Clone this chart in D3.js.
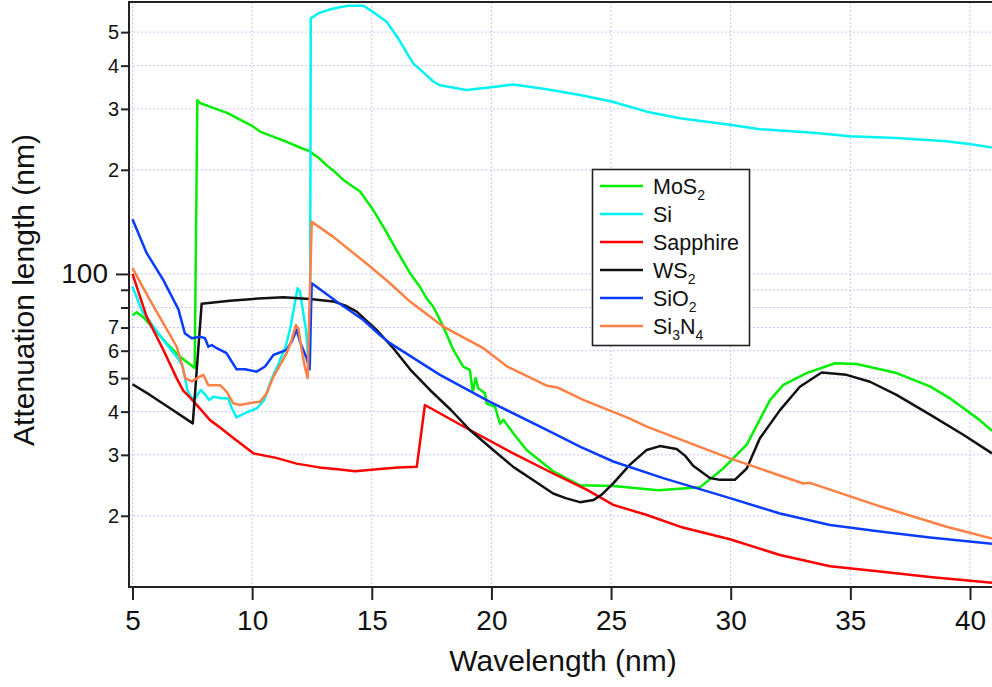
<!DOCTYPE html>
<html>
<head>
<meta charset="utf-8">
<script src="https://cdn.jsdelivr.net/npm/d3@7"></script>
<style>
  html, body { margin: 0; padding: 0; background: #fff; }
  svg { display: block; font-family: "Liberation Sans", Arial, sans-serif; }
</style>
</head>
<body>
<svg id="chart" width="992" height="687"></svg>
<script>
// ---------------- data (wavelength nm, attenuation length nm) ----------------
const mos2 = [[5.0,76],[5.18,77.5],[5.45,75],[5.87,69.6],[6.43,63],[6.98,57.7],[7.3,55.5],[7.6,53.5],[7.71,318],[7.82,312],[8.2,305],[8.66,297],[9.0,291],[9.63,276],[10.0,268],[10.33,258],[10.9,249],[11.44,241],[12.0,232],[12.42,226],[12.8,216],[13.12,206],[13.5,196],[13.81,187],[14.51,173],[15.06,153],[15.48,137],[16.04,117],[16.6,100.5],[17.01,91.9],[17.29,85],[17.57,80.4],[17.99,70.4],[18.41,60.3],[18.82,54],[19.1,52.8],[19.22,45.6],[19.34,50],[19.45,46.7],[19.73,45.2],[19.8,42.2],[20.15,41.3],[20.36,36.9],[20.5,37.9],[21.0,34],[21.47,31],[22.58,26.9],[23.7,24.5],[25.09,24.4],[26.97,23.7],[28.72,24.2],[29.69,27.4],[30.67,32.1],[31.64,43.2],[32.2,47.8],[33.17,51.7],[34.36,55.2],[35.26,54.9],[36.93,51.7],[38.33,47.3],[39.16,43.7],[40.41,37.8],[40.92,35.2]];

const si = [[5.0,92],[5.4,78],[5.9,70],[6.4,63],[6.9,57],[7.1,54],[7.3,46],[7.45,44],[7.6,43.5],[7.85,46.2],[8.05,44.7],[8.2,43.2],[8.4,44.2],[8.7,43.7],[9.0,43.7],[9.15,40.9],[9.35,38.5],[9.8,39.9],[10.2,40.9],[10.5,43.2],[10.8,49.4],[11.1,55],[11.4,61.6],[11.6,70],[11.75,80],[11.9,90.9],[12.0,89],[12.1,80],[12.25,69],[12.35,56],[12.42,55],[12.45,548],[12.77,567],[13.2,580],[13.6,589],[14.0,596],[14.65,596],[15.0,575],[15.62,536],[16.1,480],[16.52,429],[16.73,406],[17.2,380],[17.57,360],[17.85,351],[18.96,340],[20.08,347],[20.92,353],[22.31,342],[23.7,329],[25.03,315],[26.49,294.5],[27.88,282],[29.97,270],[31.22,262],[33.45,256],[34.98,250],[36.93,247],[39.0,242],[39.97,237.5],[40.92,232]];

const sapphire = [[5.0,100],[5.59,75.3],[6.29,60.3],[6.85,49.9],[7.12,46],[7.4,44],[7.82,40.8],[8.24,37.8],[8.7,35.8],[9.2,33.6],[10.05,30.3],[11.0,29.4],[11.86,28.3],[12.8,27.6],[13.67,27.2],[14.3,26.9],[15.34,27.3],[16.1,27.6],[16.88,27.7],[17.22,41.8],[19.1,35.4],[20.91,30.3],[22.58,26.5],[23.98,23.8],[25.09,21.5],[26.5,20.1],[27.88,18.6],[29.97,17.1],[32.06,15.4],[34.15,14.3],[36.24,13.8],[38.33,13.3],[40.92,12.8]];

const ws2 = [[5.0,48],[5.73,44.7],[6.57,40.9],[7.52,37],[7.89,82],[9.07,83.7],[10.05,84.7],[11.31,85.6],[12.42,84.7],[13.39,83.3],[13.9,81],[14.37,77.8],[14.8,73],[15.2,68.9],[15.9,61],[16.6,53],[17.43,46.2],[18.3,40.5],[19.1,35.4],[20.0,31.3],[20.91,27.7],[21.8,25.2],[22.58,23.2],[23.1,22.5],[23.7,21.9],[24.26,22.2],[24.6,23],[25.09,24.8],[25.79,28.1],[26.49,31],[27.04,31.8],[27.74,31.2],[28.1,29.8],[28.43,27.9],[29.13,25.7],[29.55,25.4],[30.17,25.4],[30.67,27.4],[31.22,33.5],[32.06,40.4],[32.89,47.2],[33.8,51.9],[34.84,51.1],[35.82,48.8],[36.93,44.7],[38.33,39.2],[39.72,34.3],[40.92,30.3]];

const sio2 = [[5.0,144],[5.59,115],[6.29,96],[6.92,79],[7.19,67.3],[7.48,65.2],[7.82,65.9],[8.03,65.2],[8.17,61.6],[8.31,62.3],[8.52,61],[8.93,59],[9.35,53],[9.7,53],[10.19,52.2],[10.54,54],[10.89,58.3],[11.44,60.3],[11.65,63.7],[11.86,69],[12.0,63.7],[12.15,60],[12.28,57],[12.4,53],[12.49,94],[13.53,83.2],[14.65,73.6],[15.34,66.6],[15.76,63.1],[17.85,51.1],[19.94,42.7],[22.31,35.4],[23.7,31.7],[25.09,28.7],[27.18,25.7],[29.97,22.5],[32.06,20.3],[34.15,18.8],[36.24,18.0],[38.33,17.3],[40.92,16.6]];

const si3n4 = [[5.0,104],[5.73,84],[6.29,72],[6.85,61.6],[7.06,55],[7.2,50],[7.48,48.9],[7.82,50.5],[7.96,51.1],[8.17,47.7],[8.38,47.7],[8.66,47.7],[8.93,45.7],[9.21,42.3],[9.49,41.8],[10.05,42.5],[10.33,42.7],[10.61,45.2],[10.89,50.5],[11.17,54.6],[11.44,59],[11.65,64.4],[11.83,71.2],[11.93,69.7],[12.07,60.3],[12.2,54],[12.32,50],[12.49,141.6],[13.39,128],[14.79,107],[15.76,94],[16.6,83.2],[17.99,70.4],[19.66,61],[20.66,54],[22.33,47.5],[22.75,47],[23.86,43.2],[25.79,38.2],[26.49,36.2],[29.97,29.3],[33.03,24.8],[33.31,24.9],[36.24,21.3],[39.02,18.6],[40.92,17.2]];

// legend names as [text, isSubscript] segments (drawing order = legend order)
const seriesNames = [
  [["MoS",0],["2",1]],
  [["Si",0]],
  [["Sapphire",0]],
  [["WS",0],["2",1]],
  [["SiO",0],["2",1]],
  [["Si",0],["3",1],["N",0],["4",1]]
];
const seriesData = [mos2, si, sapphire, ws2, sio2, si3n4];
const seriesColors = ["#00ee00", "#00f2f2", "#ff0000", "#111111", "#0a3cff", "#ff8044"];

const xTicks = [5, 10, 15, 20, 25, 30, 35, 40];
const yMajorTicks = [100];
const yMinorTicks = [20, 30, 40, 50, 60, 70, 80, 90, 200, 300, 400, 500];
const yMinorLabels = ["2", "3", "4", "5", "6", "7", "", "", "2", "3", "4", "5"];

// ---------------- layout ----------------
const L = 129, R = 992, T = 2, B = 587;
const svg = d3.select("#chart");
const x = d3.scaleLinear().domain([4.854, 40.92]).range([L, R]);
const y = d3.scaleLog().domain([12.45, 611]).range([B, T]);
const axisColor = "#222";
const fontFam = '"Liberation Sans", Arial, sans-serif';

// grid
const grid = svg.append("g").attr("stroke", "#c4c4ff").attr("stroke-width", 1).attr("stroke-dasharray", "2,2");
xTicks.forEach(v => grid.append("line").attr("x1", x(v)).attr("x2", x(v)).attr("y1", T).attr("y2", B));
yMajorTicks.concat(yMinorTicks).forEach(v => grid.append("line").attr("x1", L).attr("x2", R).attr("y1", y(v)).attr("y2", y(v)));

// clip
svg.append("defs").append("clipPath").attr("id", "clip")
  .append("rect").attr("x", L).attr("y", T + 1).attr("width", R - L).attr("height", B - T - 1);

const line = d3.line().x(d => x(d[0])).y(d => y(d[1]));
const plot = svg.append("g").attr("clip-path", "url(#clip)");
seriesData.forEach((d, i) => {
  plot.append("path").datum(d).attr("d", line)
    .attr("fill", "none").attr("stroke", seriesColors[i])
    .attr("stroke-width", 2.5).attr("stroke-linejoin", "round");
});

// frame
svg.append("line").attr("x1", L).attr("x2", R + 2).attr("y1", T).attr("y2", T).attr("stroke", axisColor).attr("stroke-width", 2);
svg.append("line").attr("x1", L).attr("x2", L).attr("y1", T - 1).attr("y2", B + 1).attr("stroke", axisColor).attr("stroke-width", 2);
svg.append("line").attr("x1", L - 1).attr("x2", R + 2).attr("y1", B).attr("y2", B).attr("stroke", axisColor).attr("stroke-width", 2);

// x axis ticks via d3 axis
const xAxis = d3.axisBottom(x).tickValues(xTicks).tickSize(13).tickPadding(10).tickFormat(d3.format("d"));
const gx = svg.append("g").attr("transform", `translate(0,${B})`).call(xAxis);
gx.select(".domain").remove();
gx.selectAll(".tick line").attr("stroke", axisColor).attr("stroke-width", 2);
gx.selectAll(".tick text").attr("font-size", 28).attr("font-family", fontFam).attr("fill", "#111").attr("dy", "0.71em");

// y axis: major
const yAxisMajor = d3.axisLeft(y).tickValues(yMajorTicks).tickSize(13).tickPadding(8).tickFormat(d3.format("d"));
const gyM = svg.append("g").attr("transform", `translate(${L},0)`).call(yAxisMajor);
gyM.select(".domain").remove();
gyM.selectAll(".tick line").attr("stroke", axisColor).attr("stroke-width", 2);
gyM.selectAll(".tick text").attr("font-size", 28).attr("font-family", fontFam).attr("fill", "#111");

// y axis: minor
const yAxisMinor = d3.axisLeft(y).tickValues(yMinorTicks).tickSize(8).tickPadding(2)
  .tickFormat((d, i) => yMinorLabels[i]);
const gym = svg.append("g").attr("transform", `translate(${L},0)`).call(yAxisMinor);
gym.select(".domain").remove();
gym.selectAll(".tick line").attr("stroke", axisColor).attr("stroke-width", 2);
gym.selectAll(".tick text").attr("font-size", 20).attr("font-family", fontFam).attr("fill", "#111");

// axis titles
svg.append("text").attr("x", 563).attr("y", 671).attr("text-anchor", "middle")
  .attr("font-size", 30).attr("fill", "#111").text("Wavelength (nm)");
svg.append("text").attr("transform", "translate(34,290) rotate(-90)").attr("text-anchor", "middle")
  .attr("font-size", 30).attr("fill", "#111").text("Attenuation length (nm)");

// legend
const lg = svg.append("g");
lg.append("rect").attr("x", 592.5).attr("y", 169.5).attr("width", 157).attr("height", 176)
  .attr("fill", "#fff").attr("stroke", axisColor).attr("stroke-width", 1.6);
seriesNames.forEach((segs, i) => {
  const ry = 186 + i * 28;
  lg.append("line").attr("x1", 600).attr("x2", 643).attr("y1", ry).attr("y2", ry)
    .attr("stroke", seriesColors[i]).attr("stroke-width", 2.5);
  const t = lg.append("text").attr("x", 653).attr("y", ry + 7.5).attr("font-size", 21.5).attr("fill", "#111");
  segs.forEach(([txt, sub], k) => {
    const ts = t.append("tspan").text(txt);
    if (sub) ts.attr("font-size", 14).attr("dy", 6);
    else if (k > 0 && segs[k - 1][1]) ts.attr("dy", -6);
  });
});
</script>
</body>
</html>
